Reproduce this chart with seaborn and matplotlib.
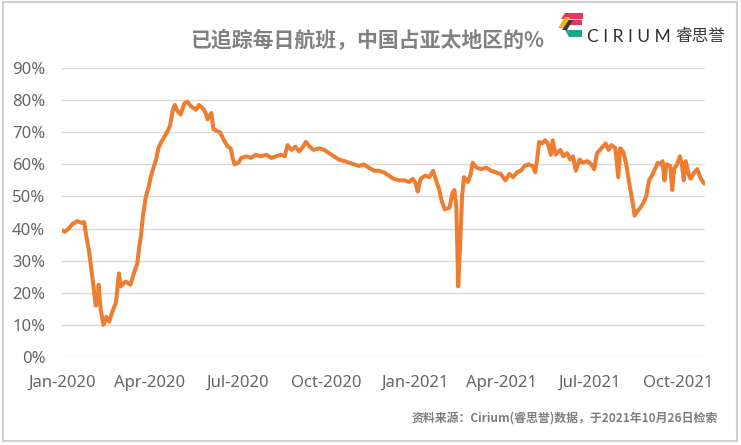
import pandas as pd
import matplotlib
matplotlib.use('Agg')
import matplotlib.pyplot as plt
import matplotlib.dates as mdates
from matplotlib.patches import Polygon, Rectangle
import seaborn as sns

# share of tracked daily flights in Asia-Pacific that are China
dates = [
    '2020-01-01', '2020-01-04', '2020-01-08', '2020-01-12', '2020-01-17', '2020-01-21',
    '2020-01-24', '2020-01-26', '2020-01-29', '2020-02-01', '2020-02-03', '2020-02-05',
    '2020-02-07', '2020-02-08', '2020-02-10', '2020-02-13', '2020-02-16', '2020-02-19',
    '2020-02-22', '2020-02-26', '2020-02-29', '2020-03-02', '2020-03-07', '2020-03-12',
    '2020-03-16', '2020-03-19', '2020-03-21', '2020-03-23', '2020-03-25', '2020-03-28',
    '2020-03-31', '2020-04-02', '2020-04-05', '2020-04-08', '2020-04-10', '2020-04-13',
    '2020-04-16', '2020-04-19', '2020-04-22', '2020-04-25', '2020-04-27', '2020-04-30',
    '2020-05-03', '2020-05-07', '2020-05-10', '2020-05-14', '2020-05-19', '2020-05-22',
    '2020-05-26', '2020-05-29', '2020-05-31', '2020-06-04', '2020-06-06', '2020-06-09',
    '2020-06-13', '2020-06-17', '2020-06-21', '2020-06-24', '2020-06-26', '2020-06-28',
    '2020-07-02', '2020-07-05', '2020-07-10', '2020-07-15', '2020-07-20', '2020-07-25',
    '2020-07-31', '2020-08-05', '2020-08-10', '2020-08-15', '2020-08-19', '2020-08-22',
    '2020-08-26', '2020-08-30', '2020-09-03', '2020-09-07', '2020-09-10', '2020-09-14',
    '2020-09-18', '2020-09-24', '2020-09-29', '2020-10-04', '2020-10-09', '2020-10-14',
    '2020-10-20', '2020-10-25', '2020-10-30', '2020-11-04', '2020-11-09', '2020-11-14',
    '2020-11-20', '2020-11-25', '2020-11-30', '2020-12-05', '2020-12-10', '2020-12-16',
    '2020-12-21', '2020-12-26', '2020-12-30', '2021-01-02', '2021-01-04', '2021-01-07',
    '2021-01-12', '2021-01-16', '2021-01-20', '2021-01-23', '2021-01-26', '2021-01-29',
    '2021-02-01', '2021-02-06', '2021-02-09', '2021-02-11', '2021-02-13', '2021-02-15',
    '2021-02-17', '2021-02-19', '2021-02-21', '2021-02-25', '2021-02-28', '2021-03-02',
    '2021-03-06', '2021-03-11', '2021-03-16', '2021-03-21', '2021-03-26', '2021-03-31',
    '2021-04-05', '2021-04-09', '2021-04-13', '2021-04-17', '2021-04-21', '2021-04-25',
    '2021-04-29', '2021-05-03', '2021-05-06', '2021-05-08', '2021-05-10', '2021-05-13',
    '2021-05-16', '2021-05-19', '2021-05-22', '2021-05-24', '2021-05-27', '2021-06-01',
    '2021-06-04', '2021-06-08', '2021-06-11', '2021-06-14', '2021-06-17', '2021-06-21',
    '2021-06-24', '2021-06-29', '2021-07-03', '2021-07-06', '2021-07-09', '2021-07-12',
    '2021-07-15', '2021-07-18', '2021-07-21', '2021-07-24', '2021-07-28', '2021-07-31',
    '2021-08-02', '2021-08-05', '2021-08-08', '2021-08-12', '2021-08-15', '2021-08-17',
    '2021-08-20', '2021-08-23', '2021-08-26', '2021-08-29', '2021-09-01', '2021-09-04',
    '2021-09-07', '2021-09-10', '2021-09-13', '2021-09-15', '2021-09-17', '2021-09-19',
    '2021-09-23', '2021-09-25', '2021-09-27', '2021-09-30', '2021-10-03', '2021-10-05',
    '2021-10-07', '2021-10-09', '2021-10-12', '2021-10-14', '2021-10-18', '2021-10-21',
    '2021-10-24', '2021-10-28',
]
share = [
    39.5, 39.0, 40.0, 41.5, 42.3, 41.8,
    42.0, 38.0, 33.0, 26.0, 21.0, 16.0,
    17.0, 22.5, 15.0, 10.0, 12.5, 11.0,
    14.0, 17.0, 26.0, 22.0, 23.5, 22.5,
    26.5, 29.0, 34.0, 38.0, 44.0, 50.0,
    53.0, 56.0, 59.0, 62.0, 65.0, 67.0,
    68.5, 70.0, 72.0, 77.0, 78.5, 76.5,
    75.5, 79.0, 79.5, 78.0, 77.0, 78.5,
    77.5, 76.0, 74.0, 76.0, 71.0, 70.5,
    70.0, 67.5, 65.5, 65.0, 62.0, 60.0,
    60.5, 62.0, 62.5, 62.0, 63.0, 62.5,
    63.0, 62.0, 62.5, 63.0, 62.5, 66.0,
    64.5, 65.5, 64.0, 65.5, 67.0, 65.5,
    64.5, 65.0, 64.5, 63.5, 62.5, 61.5,
    61.0, 60.5, 60.0, 59.5, 60.0, 59.0,
    58.0, 58.0, 57.5, 56.5, 55.5, 55.0,
    55.0, 54.5, 55.5, 54.0, 51.5, 55.5,
    56.5, 56.0, 58.0, 55.0, 52.5, 48.5,
    46.0, 46.5, 51.0, 52.0, 47.0, 22.0,
    35.0, 50.0, 56.0, 54.5, 57.0, 60.5,
    59.0, 58.5, 59.0, 58.0, 57.5, 57.0,
    55.0, 57.0, 56.0, 57.5, 58.0, 59.5,
    60.0, 59.5, 57.5, 62.0, 67.0, 66.5,
    67.5, 66.5, 63.0, 67.5, 63.0, 64.5,
    62.5, 63.5, 61.5, 62.5, 58.0, 61.5,
    60.5, 61.0, 60.0, 58.5, 63.5, 64.5,
    65.5, 66.5, 64.5, 66.0, 65.0, 56.0,
    65.0, 64.0, 60.5, 53.0, 48.0, 44.0,
    45.5, 46.5, 48.0, 50.0, 55.0, 56.5,
    58.5, 60.5, 60.0, 61.0, 55.0, 60.0,
    59.5, 52.0, 58.5, 60.0, 62.5, 60.0,
    55.0, 61.0, 57.0, 55.5, 57.5, 58.5,
    56.0, 54.0,
]
y_ticks = [0, 10, 20, 30, 40, 50, 60, 70, 80, 90]

TITLE = '已追踪每日航班，中国占亚太地区的%'
SOURCE = '资料来源：Cirium(睿思誉)数据，于2021年10月26日检索'

sns.set_theme(style='white')
plt.rcParams['font.family'] = ['Noto Sans', 'Noto Sans CJK SC', 'DejaVu Sans']

df = pd.DataFrame({'date': pd.to_datetime(dates), 'share': share})

fig = plt.figure(figsize=(7.41, 4.45), dpi=100)
ax = fig.add_axes([62 / 741, 1 - 357 / 445, (705 - 62) / 741, (357 - 68) / 445])

sns.lineplot(data=df, x='date', y='share', ax=ax, color='#ED7D31',
             linewidth=2.9, estimator=None, solid_joinstyle='round')

ax.set_ylim(0, 90)
ax.set_yticks(y_ticks)
ax.set_yticklabels([f'{v}%' for v in y_ticks])
ax.set_xlim(pd.Timestamp('2020-01-01'), pd.Timestamp('2021-10-29'))
ax.xaxis.set_major_locator(mdates.MonthLocator(bymonth=[1, 4, 7, 10]))
ax.xaxis.set_major_formatter(mdates.DateFormatter('%b-%Y'))
ax.set_xlabel('')
ax.set_ylabel('')
ax.grid(axis='y', color='#d9d9d9', linewidth=1.0)
ax.set_axisbelow(True)
for s in ax.spines.values():
    s.set_visible(False)
ax.tick_params(axis='both', length=0, labelsize=12, labelcolor='#666666')
ax.tick_params(axis='y', pad=12)
ax.tick_params(axis='x', pad=13)

fig.text(367 / 741, 1 - 40 / 445, TITLE, ha='center', va='center',
         fontsize=15, fontweight='bold', color='#808080',
         family=['Noto Sans CJK SC', 'DejaVu Sans'])

fig.text(718 / 741, 1 - 418 / 445, SOURCE, ha='right', va='center',
         fontsize=8.6, fontweight='bold', color='#7f7f7f',
         family=['Noto Sans CJK SC', 'DejaVu Sans'])

# Cirium logo mark, drawn in pixel space
def px(points):
    return [(x / 741, 1 - y / 445) for x, y in points]

logo_parts = [
    ([(565, 13), (583, 13), (583, 19), (561, 19)], '#E8355B'),
    ([(568, 20), (582, 20), (582, 25), (564, 25)], '#E8355B'),
    ([(558, 28), (565, 17), (570, 17), (564, 28)], '#F6B50E'),
    ([(562, 30), (569, 20), (573, 20), (567, 30)], '#3A3A3A'),
    ([(565, 30), (582, 30), (582, 37), (569, 37)], '#1BA68D'),
]
for pts, col in logo_parts:
    fig.patches.append(Polygon(px(pts), closed=True, facecolor=col,
                               edgecolor='none', transform=fig.transFigure))

fig.text(587 / 741, 1 - 37 / 445, 'C I R I U M', ha='left', va='center',
         fontsize=12.5, color='#2e2e2e', family=['Lato', 'DejaVu Sans'])
fig.text(675 / 741, 1 - 37 / 445, '睿思誉', ha='left', va='center',
         fontsize=12, color='#3a3a3a', family=['Noto Sans CJK SC', 'DejaVu Sans'])

fig.patches.append(Rectangle((3 / 741, 4 / 445), 734 / 741, 439 / 445,
                             fill=False, edgecolor='#d0d0d0', linewidth=1.5,
                             transform=fig.transFigure))

fig.savefig('out.png', dpi=100)
plt.close(fig)
